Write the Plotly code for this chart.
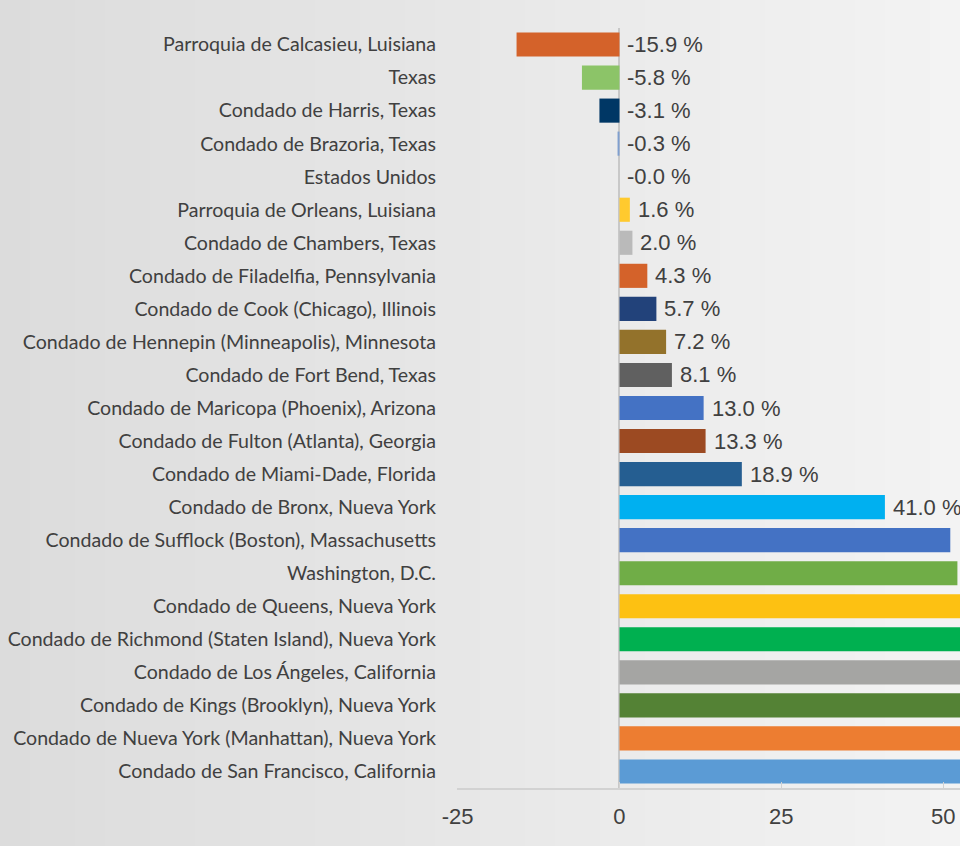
import plotly.graph_objects as go

categories = [
    "Parroquia de Calcasieu, Luisiana",
    "Texas",
    "Condado de Harris, Texas",
    "Condado de Brazoria, Texas",
    "Estados Unidos",
    "Parroquia de Orleans, Luisiana",
    "Condado de Chambers, Texas",
    "Condado de Filadelfia, Pennsylvania",
    "Condado de Cook (Chicago), Illinois",
    "Condado de Hennepin (Minneapolis), Minnesota",
    "Condado de Fort Bend, Texas",
    "Condado de Maricopa (Phoenix), Arizona",
    "Condado de Fulton (Atlanta), Georgia",
    "Condado de Miami-Dade, Florida",
    "Condado de Bronx, Nueva York",
    "Condado de Sufflock (Boston), Massachusetts",
    "Washington, D.C.",
    "Condado de Queens, Nueva York",
    "Condado de Richmond (Staten Island), Nueva York",
    "Condado de Los Ángeles, California",
    "Condado de Kings (Brooklyn), Nueva York",
    "Condado de Nueva York (Manhattan), Nueva York",
    "Condado de San Francisco, California",
]
values = [-15.9, -5.8, -3.1, -0.3, -0.0, 1.6, 2.0, 4.3, 5.7, 7.2, 8.1, 13.0, 13.3,
          18.9, 41.0, 51.1, 52.2, 55.0, 58.0, 62.0, 68.0, 75.0, 90.0]
colors = ["#D4622A", "#8CC468", "#003765", "#7F9FCF", "#A0A0A0", "#FFCA2E", "#BABABA",
          "#D4622A", "#22427A", "#93722B", "#606060", "#4472C4", "#9C4A22", "#255E91",
          "#00B0F0", "#4472C4", "#70AD47", "#FDC112", "#00B050", "#A5A5A3", "#548235",
          "#ED7D31", "#5B9BD5"]
tick_vals = [-25, 0, 25, 50]
tick_text = ["-25", "0", "25", "50"]
x_range = [-25.1, 52.6]

fig = go.Figure()
fig.add_trace(go.Bar(
    y=categories, x=values, orientation="h",
    marker=dict(color=colors, line=dict(width=0)),
    showlegend=False, hoverinfo="skip",
))

# value labels (only those that fall inside the visible axis range)
for cat, v in zip(categories, values):
    if v < x_range[1] - 10:
        fig.add_annotation(
            x=max(v, 0), y=cat, xref="x", yref="y",
            text=f"{v:.1f} %", showarrow=False,
            xanchor="left", yanchor="middle", xshift=6,
            font=dict(family="Liberation Sans, Arial", size=22, color="#404040"),
        )

# background gradient built from thin strips
W, H = 960, 846
L, R, T, B = 457, 0, 28, 58
pw = W - L - R
ph = H - T - B
n = 64
shapes = []
for i in range(n):
    x0 = (i / n * W - L) / pw
    x1 = ((i + 1) / n * W - L) / pw + 0.002
    t = i / (n - 1)
    c0, c1 = 0xDC, 0xF3
    c = int(round(c0 + (c1 - c0) * t))
    shapes.append(dict(type="rect", xref="paper", yref="paper",
                       x0=x0, x1=x1, y0=-B / ph - 0.01, y1=1 + T / ph + 0.01,
                       fillcolor=f"rgb({c},{c},{c})", line=dict(width=0), layer="below"))

fig.update_layout(
    width=W, height=H,
    margin=dict(l=L, r=R, t=T, b=B),
    paper_bgcolor="#e6e6e6",
    plot_bgcolor="rgba(0,0,0,0)",
    bargap=0.27,
    shapes=shapes,
    font=dict(family="Liberation Sans, Arial", color="#404040"),
    xaxis=dict(
        range=x_range, tickvals=tick_vals, ticktext=tick_text,
        showgrid=False, zeroline=True, zerolinecolor="#c8c8c8", zerolinewidth=2,
        showline=True, linecolor="#d2d2d2", linewidth=2,
        ticks="inside", ticklen=6, tickcolor="#d2d2d2",
        ticklabelstandoff=8,
        tickfont=dict(size=22, color="#404040"), fixedrange=True,
    ),
    yaxis=dict(
        range=[len(categories) - 0.5, -0.5], showgrid=False, showline=False, ticks="",
        ticklabelstandoff=20, fixedrange=True,
        tickfont=dict(family="Lato, Open Sans", size=19.6, color="#404040"),
    ),
)

fig.write_html(
    "out.html",
    config={"displayModeBar": False, "staticPlot": True},
    post_script="document.body.style.margin='0';document.body.style.overflow='hidden';",
)
